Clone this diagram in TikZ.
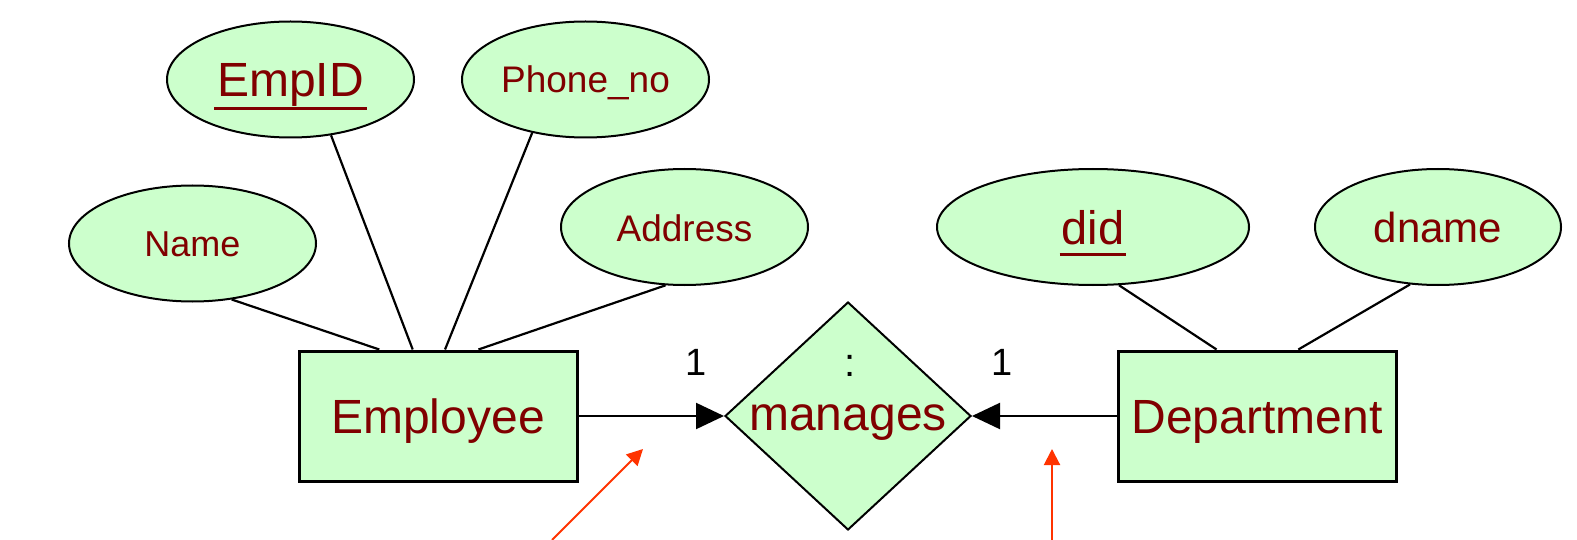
\documentclass[tikz,border=0pt]{standalone}
\usepackage{fontspec}
\setmainfont{Liberation Sans}
\usetikzlibrary{shapes.geometric,arrows.meta,calc}
\definecolor{fillg}{HTML}{CCFFCC}
\definecolor{txt}{HTML}{800000}
\definecolor{ann}{HTML}{FF3300}
\newcommand\fs[1]{\fontsize{#1}{#1}\selectfont}
\newcommand\keyul[3]{\setbox0\hbox{#3}\rlap{\smash{\kern-#2\rule[-#1]{\dimexpr\wd0+2\dimexpr#2\relax\relax}{2.6pt}}}\box0}
\begin{document}
\begin{tikzpicture}[x=1pt,y=-1pt,
  attr/.style={ellipse,draw,fill=fillg,line width=2pt,inner sep=0pt,text=txt,
    minimum width=247pt,minimum height=116pt,text depth=0pt},
  ent/.style={rectangle,draw,fill=fillg,line width=3pt,inner sep=0pt,text=txt,
    minimum width=278pt,minimum height=130pt,font=\fs{48},text height=35pt,text depth=1pt},
  rel/.style={diamond,draw,fill=fillg,line width=2pt,inner sep=0pt,text=txt,
    minimum width=246pt,minimum height=228pt,font=\fs{48}},
  conn/.style={line width=2.2pt},
  card/.style={text=black,inner sep=0pt,anchor=base},
  annot/.style={draw=ann,line width=2pt,-{Triangle[length=16pt,width=16pt,fill=ann]}},
  relarrow/.style={line width=2.2pt,-{Triangle[length=28pt,width=26pt]}}]
\useasboundingbox (0,0) rectangle (1577,540);
\fill[white] (0,0) rectangle (1577,540);
% attributes
\node[attr,font=\fs{36},text height=27pt] (name) at (192.5,243.5) {Name};
\node[attr,font=\fs{48},text height=35pt] (empid) at (290.5,79.5) {\keyul{13pt}{3pt}{EmpID}};
\node[attr,font=\fs{37},text height=27pt] (phone) at (585.5,79.5) {Phone\_no};
\node[attr,font=\fs{37},text height=28pt] (addr) at (684.5,227) {Address};
\node[attr,minimum width=312pt,font=\fs{47},text height=34pt] (did) at (1093,227) {\keyul{12pt}{2pt}{did}};
\node[attr,minimum width=246pt,font=\fs{42},text height=31pt] (dname) at (1438,227) {dname};
% entities and relationship
\node[ent] (emp) at (438,416) {Employee};
\node[ent] (dept) at (1257,416) {Department};
\node[rel] (man) at (848,416) {\smash{\raisebox{-14pt}{\makebox[0pt]{manages}}}};
% cardinalities
\node[card,font=\fs{38}] (c1) at (696,375) {1};
\node[card,font=\fs{40}] (colon) at (850,376) {:};
\node[card,font=\fs{38}] (c2) at (1002,375) {1};
% attribute links
\draw[conn] (name.-55) -- ($(emp.north west)!0.291!(emp.north east)$);
\draw[conn] (empid.-54.2) -- ($(emp.north west)!0.41!(emp.north east)$);
\draw[conn] (phone.-135) -- ($(emp.north west)!0.525!(emp.north east)$);
\draw[conn] (addr.-108) -- ($(emp.north west)!0.644!(emp.north east)$);
\draw[conn] (did.-66.3) -- ($(dept.north west)!0.356!(dept.north east)$);
\draw[conn] (dname.-116) -- ($(dept.north west)!0.647!(dept.north east)$);
% relationship links
\draw[relarrow] (emp.east) -- (man.west);
\draw[relarrow] (dept.west) -- (man.east);
% annotation arrows
\coordinate (a1s) at (552,540);
\coordinate (a1e) at (643,449);
\coordinate (a2s) at (1052,540);
\coordinate (a2e) at (1052,449);
\draw[annot] (a1s) -- (a1e);
\draw[annot] (a2s) -- (a2e);
\end{tikzpicture}
\end{document}
